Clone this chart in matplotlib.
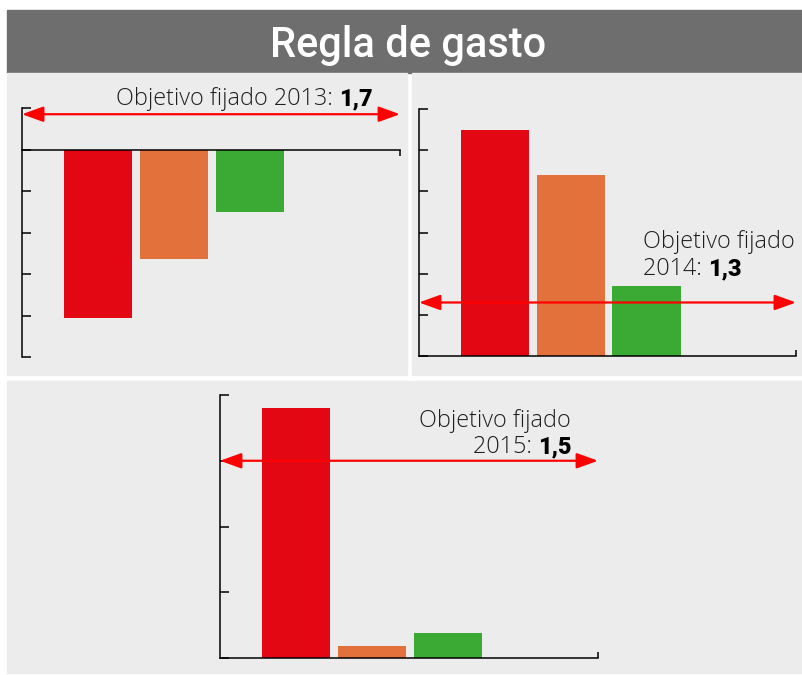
import matplotlib
matplotlib.use("Agg")
import matplotlib.pyplot as plt
from matplotlib.patches import Rectangle
from matplotlib.ticker import MultipleLocator

# Datos (% de variación del gasto)
valores_2013 = [-8.1, -5.3, -3.0]
valores_2014 = [5.5, 4.4, 1.7]
valores_2015 = [1.9, 0.09, 0.19]
objetivos = [1.7, 1.3, 1.5]
objetivos_txt = ["1,7", "1,3", "1,5"]
anios = ["2013", "2014", "2015"]
colores = ["#e30613", "#e3713b", "#3aaa35"]

W, H = 803, 675
FUENTE = "Roboto"
FUENTE_TXT = "Open Sans"
TAM = 16.8
fig = plt.figure(figsize=(W / 100, H / 100), dpi=100)


def caja(x0, y0, x1, y1, color):
    fig.patches.append(Rectangle((x0 / W, 1 - y1 / H), (x1 - x0) / W, (y1 - y0) / H,
                                 transform=fig.transFigure, color=color, zorder=-5))


def panel(x0, y0, x1, y1, valores, ylim, paso, objetivo, tick_dir):
    ax = fig.add_axes([x0 / W, 1 - y1 / H, (x1 - x0) / W, (y1 - y0) / H])
    ax.patch.set_visible(False)
    ax.bar(range(len(valores)), valores, width=0.9, color=colores, zorder=1)
    ax.set_xlim(-1.0, 3.97)
    ax.set_ylim(ylim)
    ax.yaxis.set_major_locator(MultipleLocator(paso))
    ax.set_xticks([3.97])
    ax.tick_params(axis="y", direction="in", length=6.5, width=1.1, labelleft=False)
    ax.tick_params(axis="x", direction=tick_dir, length=4.5, width=1.1, labelbottom=False)
    for s in ["top", "right"]:
        ax.spines[s].set_visible(False)
    for s in ["left", "bottom"]:
        ax.spines[s].set_linewidth(1.1)
        ax.spines[s].set_zorder(3)
    # flecha del objetivo
    ax.annotate("", xy=(1, objetivo), xytext=(0, objetivo),
                xycoords=("axes fraction", "data"), textcoords=("axes fraction", "data"),
                arrowprops=dict(arrowstyle="<|-|>,head_length=1.3,head_width=0.47",
                                color="#ff0000", lw=1.6, shrinkA=0, shrinkB=0),
                annotation_clip=False, zorder=4)
    return ax


def texto(ax, x, y, s, ha):
    return ax.text(x, y, s, transform=ax.transAxes, ha=ha, va="baseline",
                   fontsize=TAM, family=FUENTE_TXT, weight="light", color="#1e1e1e")


def numero(ax, xy, xycoords, s, ha):
    return ax.annotate(s, xy=xy, xycoords=xycoords, ha=ha, va="baseline",
                       fontsize=TAM, family=FUENTE, weight="black", color="black")


def etiqueta(ax, x, y, prefijo, num_txt):
    # numero en negrita alineado a la derecha, el prefijo justo a su izquierda
    num = numero(ax, (x, y), "axes fraction", num_txt, "right")
    ax.annotate(prefijo, xy=(0, y), xycoords=(num, "axes fraction"), ha="right",
                va="baseline", fontsize=TAM, family=FUENTE_TXT, weight="light",
                color="#1e1e1e")


# fondos
caja(7, 10, 803, 73, "#6e6e6e")
caja(7, 73, 407, 375, "#ececec")
caja(412, 73, 803, 375, "#ececec")
caja(7, 381, 803, 673, "#ececec")

fig.text(408 / W, 1 - 45 / H, "Regla de gasto", color="white", fontsize=30,
         ha="center", va="center", family=FUENTE, weight="medium")

# 2013
ax1 = panel(22, 108, 400, 357, valores_2013, (-10, 2), 2, objetivos[0], "out")
ax1.spines["bottom"].set_position(("data", 0))
etiqueta(ax1, 0.928, 1.012, "Objetivo fijado " + anios[0] + ": ", objetivos_txt[0])

# 2014
ax2 = panel(419, 109, 796, 356, valores_2014, (0, 6), 1, objetivos[1], "in")
texto(ax2, 0.594, 0.437, "Objetivo fijado", "left")
pre = texto(ax2, 0.594, 0.328, anios[1] + ": ", "left")
numero(ax2, (1, 0.328), (pre, "axes fraction"), objetivos_txt[1], "left")

# 2015
ax3 = panel(220, 395, 598, 658, valores_2015, (0, 2), 0.5, objetivos[2], "in")
texto(ax3, 0.929, 0.878, "Objetivo fijado", "right")
etiqueta(ax3, 0.929, 0.779, anios[2] + ": ", objetivos_txt[2])

fig.savefig("out.png", dpi=100)
